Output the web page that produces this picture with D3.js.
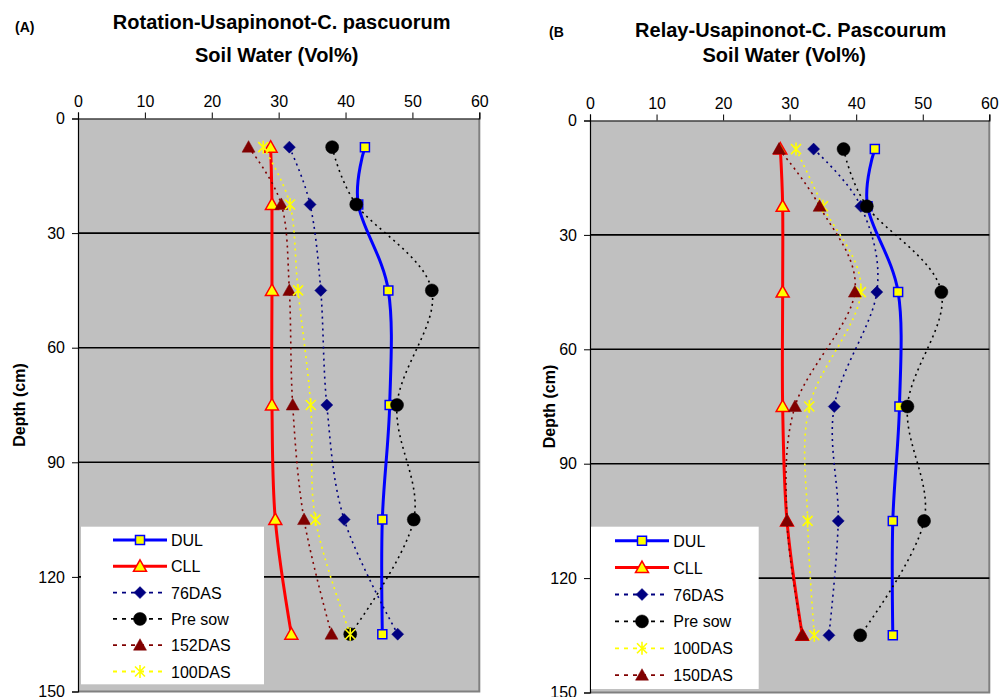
<!DOCTYPE html>
<html>
<head>
<meta charset="utf-8">
<script src="https://cdn.jsdelivr.net/npm/d3@7"></script>
<style>
  html, body { margin: 0; padding: 0; background: #ffffff; }
  svg { display: block; }
  text { font-family: Arial, "Liberation Sans", sans-serif; fill: #000; }
</style>
</head>
<body>
<svg id="chart" width="1000" height="697"></svg>
<script>
// Sampling depths (cm) and axis ticks
const depths = [7.5, 22.5, 45, 75, 105, 135];
const waterTicks = [0, 10, 20, 30, 40, 50, 60];
const depthTicks = [0, 30, 60, 90, 120, 150];
const gridDepths = [30, 60, 90, 120];

// Panel A: Rotation, soil water (Vol%) at each depth
const dulA     = [42.9, 41.9, 46.4, 46.6, 45.5, 45.5];
const cllA     = [28.8, 29.0, 29.0, 29.0, 29.5, 31.9];
const das76A   = [31.6, 34.7, 36.3, 37.2, 39.8, 47.8];
const preSowA  = [38.0, 41.6, 52.9, 47.7, 50.2, 40.7];
const das152A  = [25.5, 30.4, 31.6, 32.1, 33.8, 37.9];
const das100A  = [27.7, 31.7, 32.9, 34.8, 35.5, 40.7];

// Panel B: Relay, soil water (Vol%) at each depth
const dulB     = [42.8, 41.7, 46.3, 46.5, 45.5, 45.5];
const cllB     = [28.6, 28.95, 28.95, 28.95, 29.6, 31.9];
const das76B   = [33.6, 40.7, 43.1, 36.7, 37.3, 35.9];
const preSowB  = [38.1, 41.6, 52.8, 47.7, 50.2, 40.6];
const das100B  = [30.95, 35.0, 40.7, 32.95, 32.7, 33.7];
const das150B  = [28.4, 34.5, 39.8, 30.8, 29.6, 31.9];

// Series labels in legend order
const labelsA = ["DUL", "CLL", "76DAS", "Pre sow", "152DAS", "100DAS"];
const labelsB = ["DUL", "CLL", "76DAS", "Pre sow", "100DAS", "150DAS"];

// Line/marker styles keyed by series name
const styles = {
  "DUL":     { color: "#0000ff", width: 3,   dash: null,  marker: "square",   fill: "#ffff00", stroke: "#0000ff" },
  "CLL":     { color: "#ff0000", width: 3,   dash: null,  marker: "triangle", fill: "#ffff00", stroke: "#ff0000" },
  "76DAS":   { color: "#000080", width: 1.6, dash: "2,4", marker: "diamond",  fill: "#000080", stroke: "#000080" },
  "Pre sow": { color: "#000000", width: 1.6, dash: "2,4", marker: "circle",   fill: "#000000", stroke: "#000000" },
  "152DAS":  { color: "#800000", width: 1.6, dash: "2,4", marker: "triangle", fill: "#800000", stroke: "#800000" },
  "150DAS":  { color: "#800000", width: 1.6, dash: "2,4", marker: "triangle", fill: "#800000", stroke: "#800000" },
  "100DAS":  { color: "#ffff00", width: 1.6, dash: "2,4", marker: "star",     fill: "none",    stroke: "#ffff00" }
};

const svg = d3.select("#chart");

function markerPath(type) {
  switch (type) {
    case "square":   return "M-4.5,-4.5H4.5V4.5H-4.5Z";
    case "triangle": return "M0,-6.5L6.5,5L-6.5,5Z";
    case "diamond":  return "M0,-6L6,0L0,6L-6,0Z";
    case "circle":   return "M6.5,0A6.5,6.5,0,1,1,-6.5,0A6.5,6.5,0,1,1,6.5,0Z";
    case "star":     return "M-5,-5L5,5M-5,5L5,-5M0,-6.5V6.5";
  }
}

function drawMarker(g, type, st, x, y) {
  g.append("path")
    .attr("d", markerPath(type))
    .attr("transform", `translate(${x},${y})`)
    .attr("fill", st.fill)
    .attr("stroke", st.stroke)
    .attr("stroke-width", type === "star" ? 1.6 : (st.fill === st.stroke ? 0.5 : 1.5));
}

function drawPanel(p) {
  const x = d3.scaleLinear().domain([0, 60]).range([p.left, p.right]);
  const y = d3.scaleLinear().domain([0, 150]).range([p.top, p.bottom]);
  const g = svg.append("g");

  // plot area
  g.append("rect")
    .attr("x", p.left).attr("y", p.top)
    .attr("width", p.right - p.left).attr("height", p.bottom - p.top)
    .attr("fill", "#c0c0c0");
  g.append("path")
    .attr("d", `M${p.right},${p.top}V${p.bottom}H${p.left}`)
    .attr("fill", "none").attr("stroke", "#808080").attr("stroke-width", 2);

  // horizontal gridlines
  g.selectAll(".grid").data(gridDepths).join("line")
    .attr("x1", p.left).attr("x2", p.right)
    .attr("y1", d => y(d)).attr("y2", d => y(d))
    .attr("stroke", "#000").attr("stroke-width", 1.6);

  // top axis (soil water)
  const xAxis = d3.axisTop(x).tickValues(waterTicks).tickSize(6).tickPadding(6).tickFormat(d3.format("d"));
  const gx = g.append("g").attr("transform", `translate(0,${p.top})`).call(xAxis);
  gx.select(".domain").attr("stroke", "#000").attr("stroke-width", 1.2);
  gx.selectAll(".tick line").attr("stroke", "#000");
  gx.selectAll("text").attr("font-size", 16).attr("font-family", "Arial, 'Liberation Sans', sans-serif").attr("fill", "#000");

  // left axis (depth)
  const yAxis = d3.axisLeft(y).tickValues(depthTicks).tickSize(6).tickPadding(7).tickFormat(d3.format("d"));
  const gy = g.append("g").attr("transform", `translate(${p.left},0)`).call(yAxis);
  gy.select(".domain").attr("stroke", "#000").attr("stroke-width", 1.2);
  gy.selectAll(".tick line").attr("stroke", "#000");
  gy.selectAll("text").attr("font-size", 16).attr("font-family", "Arial, 'Liberation Sans', sans-serif").attr("fill", "#000");

  // smoothed profile lines and markers
  const line = d3.line()
    .x(d => x(d.v)).y(d => y(d.d))
    .curve(d3.curveCardinal.tension(0));

  p.labels.forEach((name, i) => {
    const st = styles[name];
    const pts = p.series[i].map((v, j) => ({ v, d: depths[j] }));
    const s = g.append("g");
    s.append("path")
      .attr("d", line(pts))
      .attr("fill", "none")
      .attr("stroke", st.color)
      .attr("stroke-width", st.width)
      .attr("stroke-dasharray", st.dash);
    pts.forEach(pt => drawMarker(s, st.marker, st, x(pt.v), y(pt.d)));
  });

  // legend
  const lg = g.append("g");
  lg.append("rect")
    .attr("x", p.legend.x).attr("y", p.legend.y)
    .attr("width", p.legend.w).attr("height", p.legend.h)
    .attr("fill", "#fff");
  p.labels.forEach((name, i) => {
    const st = styles[name];
    const ry = p.legend.row0 + i * p.legend.step;
    lg.append("line")
      .attr("x1", p.legend.lx1).attr("x2", p.legend.lx2)
      .attr("y1", ry).attr("y2", ry)
      .attr("stroke", st.color)
      .attr("stroke-width", st.dash ? 1.8 : st.width)
      .attr("stroke-dasharray", st.dash ? "4,5" : null);
    drawMarker(lg, st.marker, st, (p.legend.lx1 + p.legend.lx2) / 2, ry);
    lg.append("text")
      .attr("x", p.legend.tx).attr("y", ry + 6)
      .attr("font-size", 16)
      .text(name);
  });

  // titles
  g.append("text")
    .attr("x", p.tag.x).attr("y", p.tag.y)
    .attr("font-size", 14).attr("font-weight", "bold")
    .text(p.tag.text);
  g.append("text")
    .attr("x", p.title1.x).attr("y", p.title1.y)
    .attr("text-anchor", "middle")
    .attr("font-size", 20).attr("font-weight", "bold")
    .text(p.title1.text);
  g.append("text")
    .attr("x", p.title2.x).attr("y", p.title2.y)
    .attr("text-anchor", "middle")
    .attr("font-size", 20).attr("font-weight", "bold")
    .text("Soil Water (Vol%)");

  // depth axis title
  g.append("text")
    .attr("transform", `translate(${p.ylab.x},${p.ylab.y}) rotate(-90)`)
    .attr("text-anchor", "middle")
    .attr("font-size", 16).attr("font-weight", "bold")
    .text("Depth (cm)");
}

drawPanel({
  left: 78, right: 479.3, top: 118.5, bottom: 691.5,
  labels: labelsA,
  series: [dulA, cllA, das76A, preSowA, das152A, das100A],
  legend: { x: 81, y: 526.7, w: 183, h: 157.6, row0: 540, step: 26.3, lx1: 113, lx2: 167, tx: 171 },
  tag: { x: 15, y: 32, text: "(A)" },
  title1: { x: 281.7, y: 29.3, text: "Rotation-Usapinonot-C. pascuorum" },
  title2: { x: 276.7, y: 61.5 },
  ylab: { x: 25, y: 405 }
});

drawPanel({
  left: 590, right: 989.3, top: 120.5, bottom: 692.5,
  labels: labelsB,
  series: [dulB, cllB, das76B, preSowB, das100B, das150B],
  legend: { x: 591, y: 526.7, w: 167.7, h: 162.3, row0: 540.7, step: 26.9, lx1: 615, lx2: 669, tx: 673.3 },
  tag: { x: 549, y: 36.5, text: "(B" },
  title1: { x: 790.7, y: 37.3, text: "Relay-Usapinonot-C. Pascourum" },
  title2: { x: 784.2, y: 62.3 },
  ylab: { x: 555, y: 406.5 }
});
</script>
</body>
</html>
